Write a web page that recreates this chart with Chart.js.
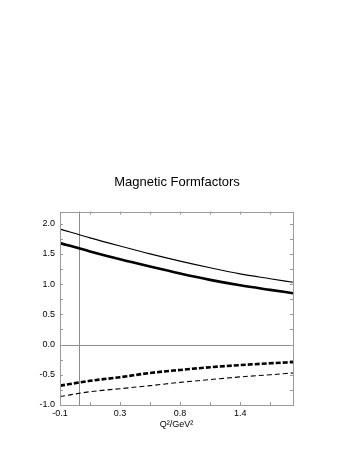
<!DOCTYPE html>
<html>
<head>
<meta charset="utf-8">
<script src="https://cdn.jsdelivr.net/npm/chart.js@4/dist/chart.umd.min.js"></script>
<style>
  html, body { margin: 0; padding: 0; background: #fff; }
  #wrap { width: 354px; height: 458px; }
</style>
</head>
<body>
<div id="wrap"><canvas id="ffChart"></canvas></div>
<script>
// x positions along the (non-linear) Q^2 axis, in axis units (1 unit = one labelled tick)
const axisPos = [0, 0.5, 1, 1.5, 2, 2.5, 3, 3.5, 3.88];
const xTickLabels = ["-0.1", "0.3", "0.8", "1.4"];
const yTickValues = [-1, -0.5, 0, 0.5, 1, 1.5, 2];
const qZeroPos = 0.31; // where Q^2 = 0 sits

// magnetic formfactors
const thinSolid = [1.91, 1.765, 1.63, 1.5, 1.38, 1.27, 1.17, 1.09, 1.03];
const thickSolid = [1.68, 1.54, 1.41, 1.29, 1.175, 1.07, 0.98, 0.905, 0.85];
const thickDashed = [-0.68, -0.6, -0.54, -0.47, -0.42, -0.375, -0.34, -0.31, -0.29];
const thinDashed = [-0.86, -0.78, -0.73, -0.68, -0.625, -0.58, -0.535, -0.5, -0.47];

const toPoints = (vals) => vals.map((v, i) => ({ x: axisPos[i], y: v }));

const FONT = "'Liberation Sans', Arial, sans-serif";
const frameColor = "#9a9a9a";

// frame, reference lines and inward tick marks
const framePlugin = {
  id: "frame",
  beforeDatasetsDraw(chart) {
    const { ctx, chartArea: a, scales } = chart;
    const xs = scales.x, ys = scales.y;
    ctx.save();
    ctx.strokeStyle = "#8c8c8c";
    ctx.lineWidth = 1;
    // Q^2 = 0 line and zero line
    const zx = Math.round(xs.getPixelForValue(qZeroPos)) + 0.5;
    const zy = Math.round(ys.getPixelForValue(0)) + 0.5;
    ctx.beginPath();
    ctx.moveTo(zx, a.top); ctx.lineTo(zx, a.bottom);
    ctx.moveTo(a.left, zy); ctx.lineTo(a.right, zy);
    ctx.stroke();
    ctx.restore();
  },
  afterDraw(chart) {
    const { ctx, chartArea: a, scales } = chart;
    const xs = scales.x, ys = scales.y;
    ctx.save();
    ctx.strokeStyle = frameColor;
    ctx.lineWidth = 1;
    ctx.strokeRect(Math.round(a.left) + 0.5, Math.round(a.top) + 0.5,
      Math.round(a.right - a.left), Math.round(a.bottom - a.top));
    ctx.beginPath();
    for (let v = -1; v <= 2.2001; v += 0.25) {
      const py = Math.round(ys.getPixelForValue(v)) + 0.5;
      ctx.moveTo(a.left, py); ctx.lineTo(a.left + 3, py);
      ctx.moveTo(a.right, py); ctx.lineTo(a.right - 3, py);
    }
    for (let v = 0.5; v < xs.max; v += 0.5) {
      const px = Math.round(xs.getPixelForValue(v)) + 0.5;
      ctx.moveTo(px, a.top); ctx.lineTo(px, a.top + 3);
      ctx.moveTo(px, a.bottom); ctx.lineTo(px, a.bottom - 3);
    }
    ctx.stroke();
    ctx.restore();
  },
};

new Chart(document.getElementById("ffChart"), {
  type: "scatter",
  data: {
    datasets: [
      { data: toPoints(thinSolid), borderColor: "#000", borderWidth: 1.1 },
      { data: toPoints(thickSolid), borderColor: "#000", borderWidth: 2.6 },
      { data: toPoints(thickDashed), borderColor: "#000", borderWidth: 2.6, borderDash: [5, 2] },
      { data: toPoints(thinDashed), borderColor: "#000", borderWidth: 1.1, borderDash: [5, 3] },
    ].map((d) => ({ ...d, showLine: true, pointRadius: 0, cubicInterpolationMode: "monotone", fill: false })),
  },
  options: {
    responsive: true,
    maintainAspectRatio: false,
    animation: false,
    layout: { padding: { top: 0, left: 0, right: 0, bottom: 28 } },
    plugins: {
      legend: { display: false },
      tooltip: { enabled: false },
      title: {
        display: true,
        text: "Magnetic Formfactors",
        color: "#000",
        font: { family: FONT, size: 13, weight: "normal" },
        padding: { top: 175, bottom: 21 },
      },
    },
    scales: {
      x: {
        type: "linear",
        min: 0,
        max: 3.88,
        grid: { display: false, drawTicks: false },
        border: { display: false },
        afterBuildTicks: (s) => { s.ticks = xTickLabels.map((_, i) => ({ value: i })); },
        afterFit: (s) => { s.height = 25; },
        ticks: {
          color: "#000",
          padding: 3,
          maxRotation: 0,
          font: { family: FONT, size: 9 },
          callback: (v) => xTickLabels[Math.round(v)],
        },
        title: {
          display: true,
          text: "Q²/GeV²",
          color: "#000",
          padding: { top: 0, bottom: 0 },
          font: { family: FONT, size: 9 },
        },
      },
      y: {
        min: -1,
        max: 2.2,
        grid: { display: false, drawTicks: false },
        border: { display: false },
        afterBuildTicks: (s) => { s.ticks = yTickValues.map((v) => ({ value: v })); },
        afterFit: (s) => { s.width = 60; },
        ticks: {
          color: "#000",
          padding: 5,
          font: { family: FONT, size: 9 },
          callback: (v) => v.toFixed(1),
        },
      },
      // empty right-hand axis, only reserves the margin so the title centres on the page
      yRight: {
        position: "right",
        min: -1,
        max: 2.2,
        grid: { display: false, drawTicks: false },
        border: { display: false },
        ticks: { display: false },
        afterFit: (s) => { s.width = 61; },
      },
    },
  },
  plugins: [framePlugin],
});
</script>
</body>
</html>
